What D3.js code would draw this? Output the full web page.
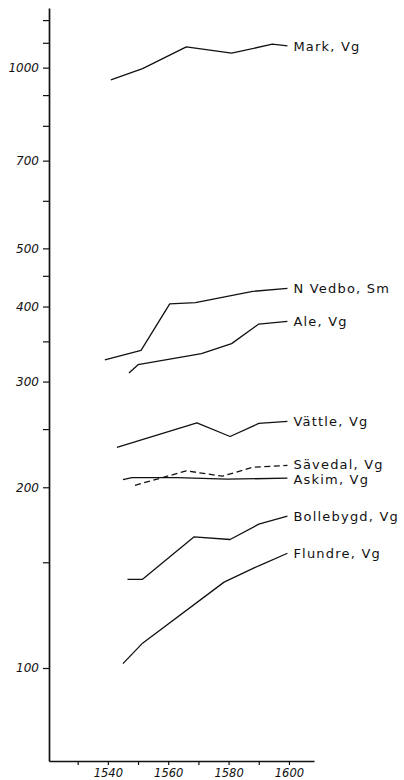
<!DOCTYPE html>
<html>
<head>
<meta charset="utf-8">
<script src="https://cdn.jsdelivr.net/npm/d3@7"></script>
<style>
  html, body { margin: 0; padding: 0; background: #fff; }
  svg { display: block; }
  .lbl { font-family: "DejaVu Sans", sans-serif; font-size: 13px; letter-spacing: 1.2px; fill: #111; }
  .tick-lbl { font-family: "DejaVu Sans", sans-serif; font-style: italic; font-size: 12px; fill: #111; }
</style>
</head>
<body>
<div id="chart"></div>
<script>
// values (year, population)
const markYears = [1541, 1551.5, 1566, 1581, 1594.5, 1599.5];
const markValues = [954, 996, 1083, 1057, 1094, 1087];

const vedboYears = [1539, 1551, 1560.5, 1569, 1588, 1599.5];
const vedboValues = [326, 338, 404, 406, 424, 429];

const aleYears = [1547, 1550, 1560.5, 1571, 1581, 1590, 1599.5];
const aleValues = [310, 320, 327, 334, 347, 374, 378];

const vattleYears = [1543, 1569.5, 1580.5, 1590, 1599.5];
const vattleValues = [233, 256, 243, 255.5, 257.5];

const savedalYears = [1549, 1566, 1578, 1588, 1599.5];
const savedalValues = [201.5, 213, 208.7, 216, 217.5];

const askimYears = [1545, 1548, 1563, 1579.5, 1599.5];
const askimValues = [206, 207.6, 207.6, 206.3, 207.1];

const bollebygdYears = [1546.5, 1551.5, 1568.5, 1580.5, 1590, 1599.5];
const bollebygdValues = [140.5, 140.5, 165.3, 163.7, 173.6, 179];

const flundreYears = [1545, 1551.5, 1578.5, 1590, 1599.5];
const flundreValues = [101.7, 110, 139, 148, 155.3];

const seriesNames = ["Mark, Vg", "N Vedbo, Sm", "Ale, Vg", "Vättle, Vg", "Sävedal, Vg", "Askim, Vg", "Bollebygd, Vg", "Flundre, Vg"];
const seriesYears = [markYears, vedboYears, aleYears, vattleYears, savedalYears, askimYears, bollebygdYears, flundreYears];
const seriesValues = [markValues, vedboValues, aleValues, vattleValues, savedalValues, askimValues, bollebygdValues, flundreValues];
const dashedSeries = ["Sävedal, Vg"];

const yTicks = [100, 150, 200, 250, 300, 350, 400, 450, 500, 600, 700, 800, 900, 1000, 1100, 1200];
const yLabelled = [100, 200, 300, 400, 500, 700, 1000];
const xTicks = [1530, 1540, 1550, 1560, 1570, 1580, 1590, 1600];
const xLabelled = [1540, 1560, 1580, 1600];

const width = 404, height = 780;

const svg = d3.select("#chart").append("svg")
    .attr("width", width)
    .attr("height", height);

const x = d3.scaleLinear().domain([1520.5, 1608.3]).range([49, 314]);
const y = d3.scaleLog().domain([70, 1257]).range([761, 8]);

// y axis
const yAxis = svg.append("g")
    .attr("transform", `translate(${x(1520.5)},0)`)
    .call(d3.axisLeft(y).tickValues(yTicks).tickSize(6).tickSizeOuter(0)
        .tickFormat(d => yLabelled.includes(d) ? d : ""));
yAxis.select(".domain").attr("stroke", "#111").attr("stroke-width", 1.7);
yAxis.selectAll(".tick line").attr("stroke", "#111").attr("stroke-width", 1.2);
yAxis.selectAll(".tick text").attr("class", "tick-lbl").attr("x", -10).attr("font-size", null).attr("font-family", null);

// x axis
const xAxis = svg.append("g")
    .attr("transform", `translate(0,${y(70)})`)
    .call(d3.axisBottom(x).tickValues(xTicks).tickSize(4).tickSizeOuter(0)
        .tickFormat(d => xLabelled.includes(d) ? d : ""));
xAxis.select(".domain").attr("stroke", "#111").attr("stroke-width", 1.7);
xAxis.selectAll(".tick line").attr("stroke", "#111").attr("stroke-width", 1.2);
xAxis.selectAll(".tick text").attr("class", "tick-lbl").attr("y", 15.5).attr("dy", null)
    .attr("font-size", null).attr("font-family", null).style("font-size", "11.5px");

// lines
const line = d3.line().x(d => x(d[0])).y(d => y(d[1]));

// Sävedal och Askim ligger tätt: flytta etiketterna isär lite
const labelNudge = { "Sävedal, Vg": -1.5, "Askim, Vg": 1.5 };

seriesNames.forEach((name, i) => {
    const pts = seriesYears[i].map((yr, j) => [yr, seriesValues[i][j]]);
    svg.append("path")
        .datum(pts)
        .attr("d", line)
        .attr("fill", "none")
        .attr("stroke", "#111")
        .attr("stroke-width", 1.3)
        .attr("stroke-linejoin", "round")
        .attr("stroke-dasharray", dashedSeries.includes(name) ? "6,3.5" : null);

    const last = pts[pts.length - 1];
    svg.append("text")
        .attr("class", "lbl")
        .attr("x", x(last[0]) + 6)
        .attr("y", y(last[1]) + (labelNudge[name] || 0))
        .attr("dy", "0.36em")
        .text(name);
});
</script>
</body>
</html>
